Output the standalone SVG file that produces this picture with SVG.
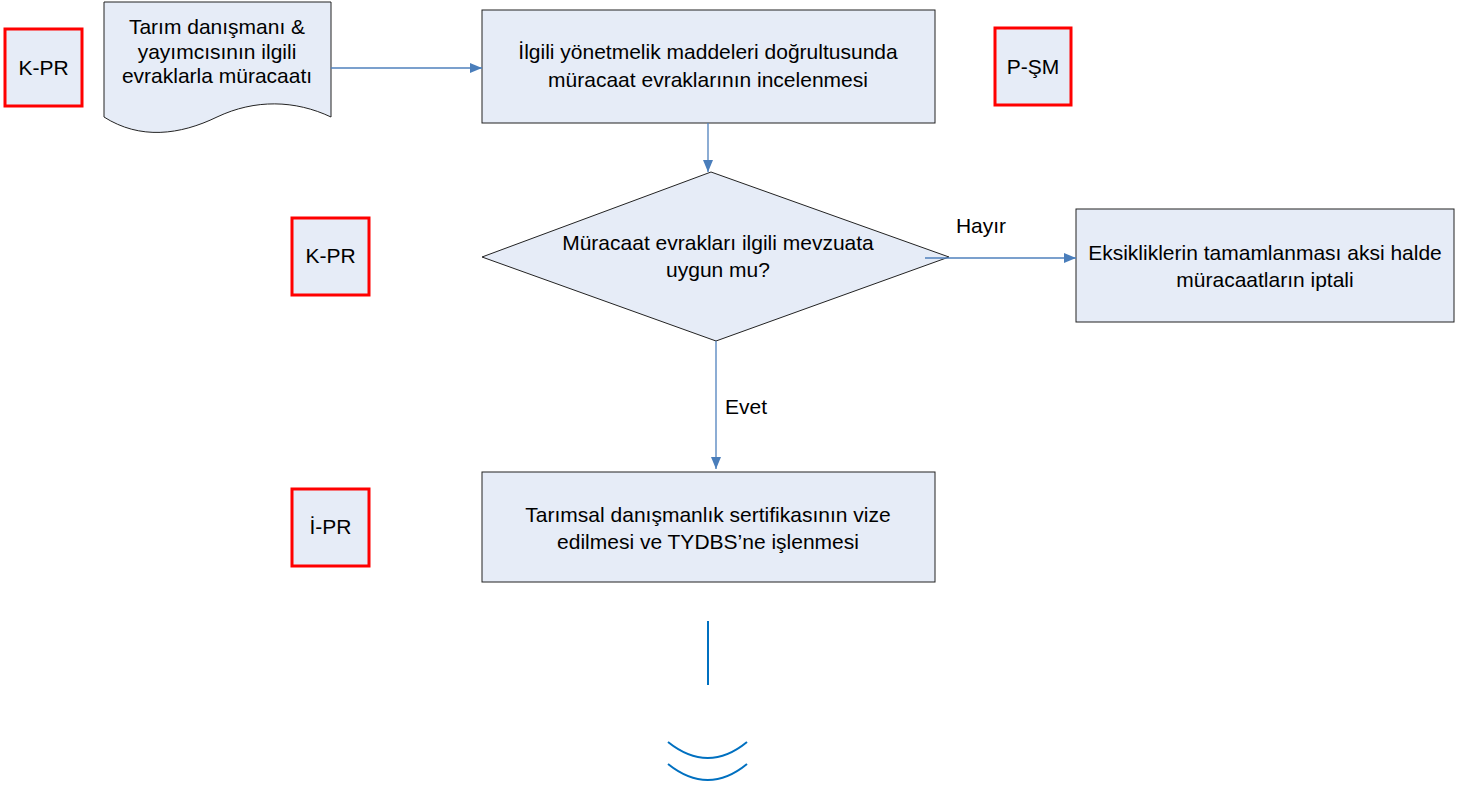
<svg xmlns="http://www.w3.org/2000/svg" width="1472" height="787" viewBox="0 0 1472 787">
<style>
.box{fill:#E6ECF7;stroke:#222;stroke-width:1}
.tag{fill:#E6ECF7;stroke:#FF0000;stroke-width:3}
.t{font-family:"Liberation Sans",Arial,sans-serif;font-size:21px;fill:#000;text-anchor:middle}
.c{stroke:#4F81BD;stroke-width:1.3;fill:none}
.s{stroke:#0070C0;stroke-width:2;fill:none}
</style>
<defs>
<marker id="ah" viewBox="0 0 12 10" refX="12" refY="5" markerWidth="12" markerHeight="10" markerUnits="userSpaceOnUse" orient="auto">
<path d="M0,0 L12,5 L0,10 z" fill="#4A7EBB"/>
</marker>
</defs>
<rect width="1472" height="787" fill="#fff"/>
<g id="tag-kpr1"><rect class="tag" x="5" y="29" width="77" height="77"/><text class="t" x="43.5" y="75">K-PR</text></g>
<g id="doc"><path class="box" d="M104,2 H331 V117 C295,100 255,99 217,117 C180,135 140,140 104,117 Z"/>
<text class="t" x="217" y="34">Tarım danışmanı &amp;</text>
<text class="t" x="217" y="59">yayımcısının ilgili</text>
<text class="t" x="217" y="83">evraklarla müracaatı</text></g>
<g id="box1"><rect class="box" x="482" y="10" width="453" height="113"/>
<text class="t" x="708" y="59">İlgili yönetmelik maddeleri doğrultusunda</text>
<text class="t" x="708" y="87">müracaat evraklarının incelenmesi</text></g>
<g id="tag-psm"><rect class="tag" x="995" y="28" width="76" height="77"/><text class="t" x="1033" y="74">P-ŞM</text></g>
<g id="diamond"><path class="box" d="M711,172 L949,257 L716,341 L482,257 Z"/>
<text class="t" x="718" y="250">Müracaat evrakları ilgili mevzuata</text>
<text class="t" x="718" y="277">uygun mu?</text></g>
<g id="tag-kpr2"><rect class="tag" x="292" y="218" width="77" height="77"/><text class="t" x="330.5" y="263">K-PR</text></g>
<g id="box2"><rect class="box" x="1076" y="209" width="378" height="113"/>
<text class="t" x="1265" y="260">Eksikliklerin tamamlanması aksi halde</text>
<text class="t" x="1265" y="287">müracaatların iptali</text></g>
<g id="tag-ipr"><rect class="tag" x="292" y="489" width="77" height="77"/><text class="t" x="330.5" y="534">İ-PR</text></g>
<g id="box3"><rect class="box" x="482" y="472" width="453" height="110"/>
<text class="t" x="708" y="522">Tarımsal danışmanlık sertifikasının vize</text>
<text class="t" x="708" y="549">edilmesi ve TYDBS’ne işlenmesi</text></g>
<g id="connectors">
<line class="c" x1="331" y1="68" x2="482" y2="68" marker-end="url(#ah)"/>
<line class="c" x1="708" y1="123" x2="708" y2="172" marker-end="url(#ah)"/>
<line class="c" x1="925" y1="258" x2="1076" y2="258" marker-end="url(#ah)"/>
<line class="c" x1="716" y1="341" x2="716" y2="469" marker-end="url(#ah)"/>
<text class="t" x="981" y="233">Hayır</text>
<text class="t" x="746" y="414">Evet</text>
</g>
<g id="offpage">
<line class="s" x1="708" y1="621" x2="708" y2="685"/>
<path class="s" d="M668,742 Q708,774 747,742"/>
<path class="s" d="M668,764 Q708,796 747,764"/>
</g>
</svg>
